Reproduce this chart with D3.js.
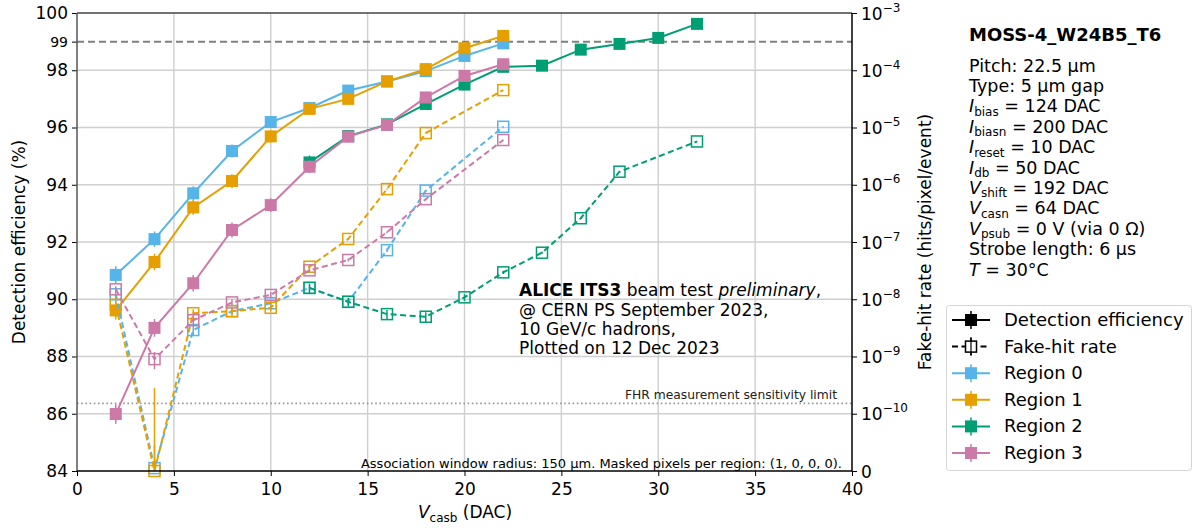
<!DOCTYPE html>
<html>
<head>
<meta charset="utf-8">
<script src="https://cdn.jsdelivr.net/npm/d3@7"></script>
<style>
  html, body { margin: 0; padding: 0; background: #fff; }
  svg { display: block; font-family: "DejaVu Sans", sans-serif; }
</style>
</head>
<body>
<svg id="chart" width="1199" height="528"></svg>
<script>
// ---- data ----
const regionNames = ["Region 0", "Region 1", "Region 2", "Region 3"];
const regionColors = ["#56B4E9", "#E69F00", "#009E73", "#CC79A7"];

// detection efficiency (%) vs Vcasb (DAC)
const effVcasb0 = [2, 4, 6, 8, 10, 12, 14, 16, 18, 20, 22];
const effVcasb1 = [2, 4, 6, 8, 10, 12, 14, 16, 18, 20, 22];
const effVcasb2 = [12, 14, 16, 18, 20, 22, 24, 26, 28, 30, 32];
const effVcasb3 = [2, 4, 6, 8, 10, 12, 14, 16, 18, 20, 22];
const eff0 = [90.85, 92.10, 93.70, 95.18, 96.19, 96.68, 97.29, 97.61, 97.97, 98.50, 98.94];
const eff1 = [89.61, 91.30, 93.21, 94.13, 95.69, 96.65, 97.00, 97.61, 98.04, 98.77, 99.20];
const eff2 = [94.78, 95.70, 96.11, 96.82, 97.50, 98.12, 98.16, 98.72, 98.92, 99.13, 99.62];
const eff3 = [85.99, 89.00, 90.56, 92.42, 93.29, 94.63, 95.68, 96.09, 97.05, 97.80, 98.21];
const effErr0 = [0.30, 0.27, 0.25, 0.23, 0.21, 0.20, 0.18, 0.17, 0.16, 0.15, 0.14];
const effErr1 = [0.32, 0.29, 0.26, 0.24, 0.21, 0.20, 0.18, 0.17, 0.16, 0.15, 0.14];
const effErr2 = [0.24, 0.21, 0.20, 0.18, 0.17, 0.16, 0.16, 0.15, 0.14, 0.14, 0.13];
const effErr3 = [0.34, 0.31, 0.29, 0.26, 0.24, 0.22, 0.20, 0.18, 0.17, 0.16, 0.15];

// fake-hit rate (hits/pixel/event) vs Vcasb (DAC)
const fhrVcasb0 = [2, 4, 6, 8, 10, 12, 14, 16, 18, 22];
const fhrVcasb1 = [2, 4, 6, 8, 10, 12, 14, 16, 18, 22];
const fhrVcasb2 = [12, 14, 16, 18, 20, 22, 24, 26, 28, 32];
const fhrVcasb3 = [2, 4, 6, 8, 10, 12, 14, 16, 18, 22];
const fhr0 = [1.22e-8, 5e-12, 2.9e-9, 6.2e-9, 8.5e-9, 1.58e-8, 9.06e-9, 7.2e-8, 7.9e-7, 1.03e-5];
const fhr1 = [8.0e-9, 0, 5.7e-9, 6.2e-9, 7.1e-9, 3.7e-8, 1.13e-7, 8.4e-7, 8.0e-6, 4.5e-5];
const fhr2 = [1.58e-8, 9.0e-9, 5.5e-9, 4.95e-9, 1.08e-8, 2.95e-8, 6.5e-8, 2.6e-7, 1.69e-6, 5.7e-6];
const fhr3 = [1.49e-8, 9.0e-10, 4.3e-9, 8.8e-9, 1.19e-8, 3.2e-8, 4.85e-8, 1.48e-7, 5.6e-7, 6.05e-6];
// upper error on the fake-hit rate
const fhrErrHi0 = [2e-9, 4e-11, 6e-10, 1e-9, 1e-9, 2e-9, 1e-9, 5e-9, 2e-8, 1e-7];
const fhrErrHi1 = [1.5e-9, 2.8e-10, 1e-9, 1e-9, 1e-9, 3e-9, 5e-9, 2e-8, 1e-7, 3e-7];
const fhrErrHi2 = [3e-9, 1.5e-9, 1e-9, 1e-9, 1.5e-9, 2e-9, 3e-9, 8e-9, 2e-8, 5e-8];
const fhrErrHi3 = [2e-9, 3e-10, 8e-10, 1.2e-9, 1.5e-9, 2e-9, 3e-9, 6e-9, 1.5e-8, 8e-8];

const xTicks = [0, 5, 10, 15, 20, 25, 30, 35, 40];
const effTicks = [84, 86, 88, 90, 92, 94, 96, 98, 100];
const fhrTickExponents = [null, -10, -9, -8, -7, -6, -5, -4, -3];

const effTarget = 99;          // reference efficiency
const fhrSensitivity = 1.52e-10; // FHR measurement sensitivity limit

const infoLines = [
  [{t: "Pitch: 22.5 µm"}],
  [{t: "Type: 5 µm gap"}],
  [{t: "I", i: true}, {t: "bias", sub: true}, {t: " = 124 DAC"}],
  [{t: "I", i: true}, {t: "biasn", sub: true}, {t: " = 200 DAC"}],
  [{t: "I", i: true}, {t: "reset", sub: true}, {t: " = 10 DAC"}],
  [{t: "I", i: true}, {t: "db", sub: true}, {t: " = 50 DAC"}],
  [{t: "V", i: true}, {t: "shift", sub: true}, {t: " = 192 DAC"}],
  [{t: "V", i: true}, {t: "casn", sub: true}, {t: " = 64 DAC"}],
  [{t: "V", i: true}, {t: "psub", sub: true}, {t: " = 0 V (via 0 Ω)"}],
  [{t: "Strobe length: 6 µs"}],
  [{t: " "}, {t: "T", i: true}, {t: " = 30°C"}]
];

// ---- layout ----
const svg = d3.select("#chart");
const L = 77, R = 852, T = 13, B = 471;

const x = d3.scaleLinear().domain([0, 40]).range([L, R]);
const yL = d3.scaleLinear().domain([84, 100]).range([B, T]);
// right axis: linear below 1e-10, logarithmic above (one decade per unit)
const yDec = d3.scaleLinear().domain([0, 8]).range([B, T]);
const fhrT = v => v <= 1e-10 ? v / 1e-10 : 1 + Math.log10(v / 1e-10);
const yR = v => yDec(fhrT(v));

// grid
const grid = svg.append("g").attr("stroke", "#cfcfcf").attr("stroke-width", 1.4);
xTicks.slice(1, -1).forEach(t => grid.append("line").attr("x1", x(t)).attr("x2", x(t)).attr("y1", T).attr("y2", B));
effTicks.slice(1, -1).forEach(t => grid.append("line").attr("x1", L).attr("x2", R).attr("y1", yL(t)).attr("y2", yL(t)));

// reference lines
svg.append("line").attr("x1", L).attr("x2", R).attr("y1", yL(effTarget)).attr("y2", yL(effTarget))
  .attr("stroke", "#808080").attr("stroke-width", 2).attr("stroke-dasharray", "7,4");
svg.append("line").attr("x1", L).attr("x2", R).attr("y1", yR(fhrSensitivity)).attr("y2", yR(fhrSensitivity))
  .attr("stroke", "#999").attr("stroke-width", 1.6).attr("stroke-dasharray", "1.6,2.6");
svg.append("text").attr("x", 837).attr("y", 399).attr("text-anchor", "end")
  .attr("font-size", 12.3).attr("fill", "#222").text("FHR measurement sensitivity limit");

// ---- series ----
const effSeries = [
  {xs: effVcasb0, ys: eff0, es: effErr0},
  {xs: effVcasb1, ys: eff1, es: effErr1},
  {xs: effVcasb2, ys: eff2, es: effErr2},
  {xs: effVcasb3, ys: eff3, es: effErr3}
];
const fhrSeries = [
  {xs: fhrVcasb0, ys: fhr0, es: fhrErrHi0},
  {xs: fhrVcasb1, ys: fhr1, es: fhrErrHi1},
  {xs: fhrVcasb2, ys: fhr2, es: fhrErrHi2},
  {xs: fhrVcasb3, ys: fhr3, es: fhrErrHi3}
];

const plot = svg.append("g");

effSeries.forEach((s, k) => {
  const c = regionColors[k];
  const pts = s.xs.map((v, i) => [v, s.ys[i], s.es[i]]);
  const g = plot.append("g");
  g.append("path").datum(pts)
    .attr("d", d3.line().x(d => x(d[0])).y(d => yL(d[1])))
    .attr("fill", "none").attr("stroke", c).attr("stroke-width", 2);
  g.selectAll("line.err").data(pts).join("line")
    .attr("x1", d => x(d[0])).attr("x2", d => x(d[0]))
    .attr("y1", d => Math.min(yL(d[1] - d[2]), B)).attr("y2", d => yL(d[1] + d[2]))
    .attr("stroke", c).attr("stroke-width", 1.5);
  g.selectAll("rect").data(pts).join("rect")
    .attr("x", d => x(d[0]) - 6).attr("y", d => yL(d[1]) - 6)
    .attr("width", 12).attr("height", 12).attr("fill", c);
});

fhrSeries.forEach((s, k) => {
  const c = regionColors[k];
  const pts = s.xs.map((v, i) => [v, s.ys[i], s.es[i]]);
  const g = plot.append("g");
  g.append("path").datum(pts)
    .attr("d", d3.line().x(d => x(d[0])).y(d => yR(d[1])))
    .attr("fill", "none").attr("stroke", c).attr("stroke-width", 2).attr("stroke-dasharray", "6,3.5");
  g.selectAll("line.err").data(pts).join("line")
    .attr("x1", d => x(d[0])).attr("x2", d => x(d[0]))
    .attr("y1", d => Math.min(yR(Math.max(d[1] - d[2], 0)), B)).attr("y2", d => yR(d[1] + d[2]))
    .attr("stroke", c).attr("stroke-width", 1.5);
  g.selectAll("rect").data(pts).join("rect")
    .attr("x", d => x(d[0]) - 5.5).attr("y", d => yR(d[1]) - 5.5)
    .attr("width", 11).attr("height", 11).attr("fill", "none")
    .attr("stroke", c).attr("stroke-width", 1.5);
});

// ---- axes ----
const fs = 17;
const ax = svg.append("g").attr("transform", `translate(0,${B})`)
  .call(d3.axisBottom(x).tickValues(xTicks).tickSize(5).tickPadding(4).tickFormat(d3.format("d")));
const ayL = svg.append("g").attr("transform", `translate(${L},0)`)
  .call(d3.axisLeft(yL).tickValues(effTicks).tickSize(5).tickPadding(4).tickFormat(d3.format("d")));
const ayL99 = svg.append("g").attr("transform", `translate(${L},0)`)
  .call(d3.axisLeft(yL).tickValues([effTarget]).tickSize(5).tickPadding(4).tickFormat(d3.format("d")));
const ayR = svg.append("g").attr("transform", `translate(${R},0)`)
  .call(d3.axisRight(yDec).tickValues(d3.range(0, 9)).tickSize(5).tickPadding(4).tickFormat(() => ""));

[ax, ayL, ayL99, ayR].forEach(a => {
  a.selectAll("text").attr("font-size", fs).attr("font-family", "DejaVu Sans").attr("fill", "#000");
  a.selectAll(".tick line").attr("stroke", "#000").attr("stroke-width", 1);
});
ax.selectAll("text").attr("dy", "0.9em");
ayL99.selectAll("text").attr("font-size", 14);
ayL99.select(".domain").remove();
[ax, ayL, ayR].forEach(a => a.select(".domain").remove());

// right tick labels with exponents
ayR.selectAll(".tick text").each(function(d) {
  const t = d3.select(this).attr("dy", null).attr("dominant-baseline", null).attr("y", 6);
  const e = fhrTickExponents[d];
  if (e === null) { t.text("0"); return; }
  t.append("tspan").text("10");
  t.append("tspan").attr("dy", -8).attr("font-size", 12).text("−" + Math.abs(e));
});

// frame
svg.append("line").attr("x1", L).attr("x2", L).attr("y1", T).attr("y2", B).attr("stroke", "#555").attr("stroke-width", 1.5);
svg.append("line").attr("x1", L).attr("x2", R).attr("y1", T).attr("y2", T).attr("stroke", "#444").attr("stroke-width", 1.5);
svg.append("line").attr("x1", L).attr("x2", R).attr("y1", B).attr("y2", B).attr("stroke", "#000").attr("stroke-width", 1.5);
svg.append("line").attr("x1", R).attr("x2", R).attr("y1", T).attr("y2", B).attr("stroke", "#000").attr("stroke-width", 1.5);

// axis titles
svg.append("text").attr("transform", "translate(25,242) rotate(-90)").attr("text-anchor", "middle")
  .attr("font-size", fs).text("Detection efficiency (%)");
svg.append("text").attr("transform", "translate(931,242) rotate(-90)").attr("text-anchor", "middle")
  .attr("font-size", fs).text("Fake-hit rate (hits/pixel/event)");
const xt = svg.append("text").attr("x", 465).attr("y", 518).attr("text-anchor", "middle").attr("font-size", fs);
xt.append("tspan").attr("font-style", "italic").text("V");
xt.append("tspan").attr("font-size", 12).attr("dy", 4).text("casb");
xt.append("tspan").attr("dy", -4).text(" (DAC)");

// annotations inside the plot
const ann = svg.append("text").attr("x", 519).attr("y", 296).attr("font-size", fs);
ann.append("tspan").attr("font-weight", "bold").text("ALICE ITS3");
ann.append("tspan").text(" beam test ");
ann.append("tspan").attr("font-style", "italic").text("preliminary");
ann.append("tspan").text(",");
["@ CERN PS September 2023,", "10 GeV/c hadrons,", "Plotted on 12 Dec 2023"].forEach((s, i) =>
  svg.append("text").attr("x", 519).attr("y", 315.5 + i * 19.3).attr("font-size", fs).text(s));
svg.append("text").attr("x", 842).attr("y", 468).attr("text-anchor", "end").attr("font-size", 13)
  .text("Association window radius: 150 µm. Masked pixels per region: (1, 0, 0, 0).");

// info block
const fsInfo = 17.5;
svg.append("text").attr("x", 969).attr("y", 41).attr("font-size", 18).attr("font-weight", "bold").text("MOSS-4_W24B5_T6");
infoLines.forEach((parts, i) => {
  const t = svg.append("text").attr("x", 969).attr("y", 71.5 + i * 20.4).attr("font-size", fsInfo);
  let sub = false;
  parts.forEach(p => {
    const ts = t.append("tspan").text(p.t);
    if (p.i) ts.attr("font-style", "italic");
    if (p.sub) { ts.attr("font-size", 12).attr("dy", 3.5); sub = true; }
    else if (sub) { ts.attr("dy", -3.5); sub = false; }
  });
});

// legend
const fsLeg = 18;
const lg = svg.append("g");
lg.append("rect").attr("x", 946.5).attr("y", 305.5).attr("width", 245).attr("height", 165).attr("rx", 3)
  .attr("fill", "#fff").attr("stroke", "#d4d4d4").attr("stroke-width", 1);
const legendItems = [
  {label: "Detection efficiency", color: "#000", dashed: false, open: false},
  {label: "Fake-hit rate", color: "#000", dashed: true, open: true}
].concat(regionNames.map((n, k) => ({label: n, color: regionColors[k], dashed: false, open: false})));
legendItems.forEach((it, i) => {
  const cy = 320 + i * 26.6;
  const g = lg.append("g");
  g.append("line").attr("x1", 952).attr("x2", 990).attr("y1", cy).attr("y2", cy)
    .attr("stroke", it.color).attr("stroke-width", 2).attr("stroke-dasharray", it.dashed ? "6,3.5" : null);
  g.append("line").attr("x1", 971).attr("x2", 971).attr("y1", cy - 9).attr("y2", cy + 9)
    .attr("stroke", it.color).attr("stroke-width", 1.5);
  if (it.open) {
    g.append("rect").attr("x", 971 - 5.5).attr("y", cy - 5.5).attr("width", 11).attr("height", 11)
      .attr("fill", "#fff").attr("stroke", it.color).attr("stroke-width", 1.5);
    g.append("line").attr("x1", 971).attr("x2", 971).attr("y1", cy - 9).attr("y2", cy + 9)
      .attr("stroke", it.color).attr("stroke-width", 1.2);
  } else {
    g.append("rect").attr("x", 971 - 6).attr("y", cy - 6).attr("width", 12).attr("height", 12).attr("fill", it.color);
  }
  g.append("text").attr("x", 1004).attr("y", cy + 6).attr("font-size", fsLeg).text(it.label);
});
</script>
</body>
</html>
